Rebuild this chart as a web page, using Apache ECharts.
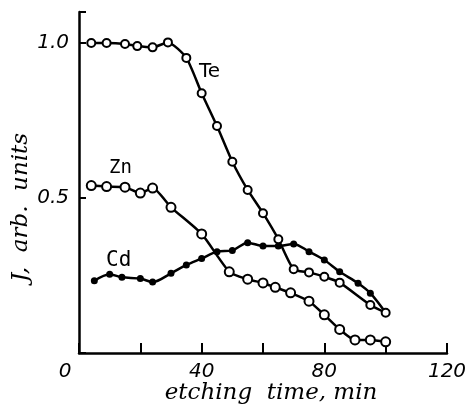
<!DOCTYPE html>
<html>
<head>
<meta charset="utf-8">
<script src="https://cdn.jsdelivr.net/npm/echarts@6/dist/echarts.min.js"></script>
<style>
  html, body { margin: 0; padding: 0; background: #fff; }
  #main { width: 465px; height: 407px; }
</style>
</head>
<body>
<div id="main"></div>
<script>
// etching time (min) and intensity (arb. units)
var teTime = [4, 9, 15, 19, 24, 29, 35, 40, 45, 50, 55, 60, 65, 70, 75, 80, 85, 95, 100];
var teVal  = [1.0, 1.0, 0.997, 0.99, 0.986, 1.002, 0.952, 0.838, 0.732, 0.617, 0.526, 0.451, 0.367, 0.27, 0.26, 0.246, 0.227, 0.155, 0.13];

var znTime = [4, 9, 15, 20, 24, 30, 40, 49, 55, 60, 64, 69, 75, 80, 85, 90, 95, 100];
var znVal  = [0.54, 0.537, 0.535, 0.516, 0.532, 0.47, 0.384, 0.262, 0.238, 0.226, 0.212, 0.194, 0.167, 0.123, 0.076, 0.042, 0.042, 0.036];

var cdTime = [5, 10, 14, 20, 24, 30, 35, 40, 45, 50, 55, 60, 65, 70, 75, 80, 85, 91, 95, 100];
var cdVal  = [0.233, 0.254, 0.244, 0.24, 0.229, 0.257, 0.284, 0.305, 0.327, 0.331, 0.356, 0.345, 0.345, 0.352, 0.327, 0.30, 0.262, 0.225, 0.193, 0.13];

var xTickLabels = ['0', '40', '80', '120'];
var yTickLabels = ['0.5', '1.0'];

function pairs(t, v) {
    var out = [];
    for (var i = 0; i < t.length; i++) out.push([t[i], v[i]]);
    return out;
}

var chart = echarts.init(document.getElementById('main'));

var labelFont = 'DejaVu Sans';

option = {
    animation: false,
    grid: { left: 79, right: 18, top: 12, bottom: 54, outerBoundsMode: 'none', containLabel: false },
    xAxis: {
        type: 'value',
        min: 0, max: 120, interval: 20,
        name: 'etching  time, min',
        nameLocation: 'middle',
        nameGap: 29,
        nameMoveOverlap: false,
        nameTextStyle: {
            fontFamily: 'DejaVu Serif', fontStyle: 'italic', fontSize: 23, color: '#000',
            padding: [0, 0, 0, 16]
        },
        axisLine: { lineStyle: { color: '#000', width: 2.5 } },
        axisTick: { inside: true, length: 10, lineStyle: { color: '#000', width: 2 } },
        splitLine: { show: false },
        axisLabel: {
            margin: 9,
            fontFamily: labelFont, fontStyle: 'italic', fontSize: 20, color: '#000',
            formatter: function (v) {
                var s = String(v);
                if (xTickLabels.indexOf(s) < 0) return '';
                return s === '0' ? '{z|0}' : s;
            },
            rich: { z: { fontFamily: labelFont, fontStyle: 'italic', fontSize: 20, color: '#000', padding: [0, 28, 0, 0] } }
        }
    },
    yAxis: {
        type: 'value',
        min: 0, max: 1.1, interval: 0.5,
        name: 'J,  arb.  units',
        nameLocation: 'middle',
        nameGap: 46,
        nameMoveOverlap: false,
        nameTextStyle: {
            fontFamily: 'DejaVu Serif', fontStyle: 'italic', fontSize: 23, color: '#000',
            padding: [0, 50, 0, 0]
        },
        axisLine: { show: true, lineStyle: { color: '#000', width: 2.5 } },
        axisTick: { show: true, inside: true, length: 7, lineStyle: { color: '#000', width: 2 } },
        splitLine: { show: false },
        axisLabel: {
            margin: 10,
            fontFamily: labelFont, fontStyle: 'italic', fontSize: 20, color: '#000',
            formatter: function (v) {
                var s = v.toFixed(1);
                return yTickLabels.indexOf(s) >= 0 ? s : '';
            }
        }
    },
    series: [
        {
            name: 'Te', type: 'line', smooth: 0.2,
            data: pairs(teTime, teVal),
            symbol: 'emptyCircle', symbolSize: 8,
            lineStyle: { color: '#000', width: 2.5 },
            itemStyle: { color: '#000', borderWidth: 2 },
            z: 3
        },
        {
            name: 'Zn', type: 'line', smooth: 0.2,
            data: pairs(znTime, znVal),
            symbol: 'emptyCircle', symbolSize: 9,
            lineStyle: { color: '#000', width: 2.5 },
            itemStyle: { color: '#000', borderWidth: 2.5 },
            z: 3
        },
        {
            name: 'Cd', type: 'line', smooth: 0.3,
            data: pairs(cdTime, cdVal),
            symbol: 'circle', symbolSize: 7,
            lineStyle: { color: '#000', width: 2.5 },
            itemStyle: { color: '#000' },
            z: 2
        }
    ],
    graphic: [
        { type: 'text', left: 199, top: 62, style: { text: 'Te', font: '20px "DejaVu Sans"', fill: '#000' } },
        { type: 'text', left: 109, top: 159, style: { text: 'Zn', font: '19px "DejaVu Sans Mono"', fill: '#000' } },
        { type: 'text', left: 106, top: 250, style: { text: 'Cd', font: '21px "DejaVu Sans Mono"', fill: '#000' } }
    ]
};

chart.setOption(option);
</script>
</body>
</html>
